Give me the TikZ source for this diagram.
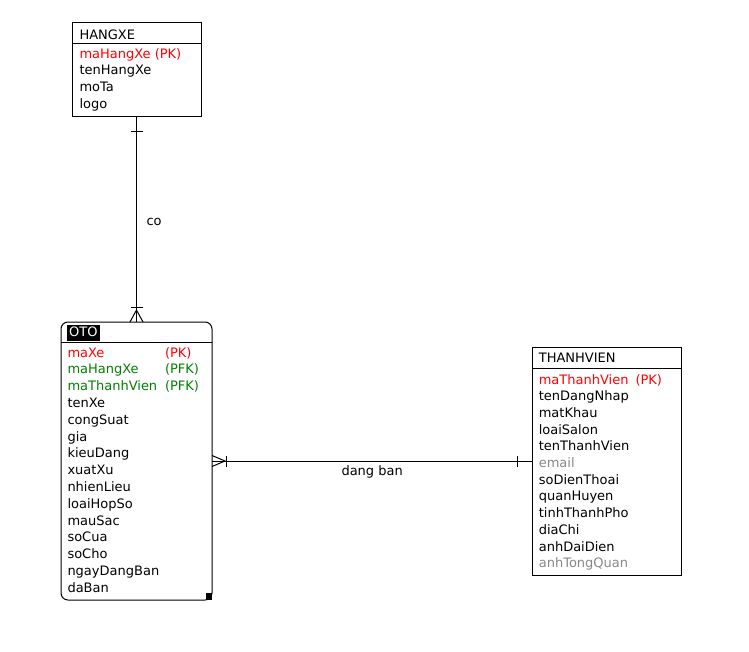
\documentclass[tikz,border=0pt]{standalone}
\usepackage{fontspec}
\setmainfont{DejaVu Sans}
\usepackage{xcolor}
\usetikzlibrary{positioning,calc}
\definecolor{pkred}{RGB}{255,0,0}
\definecolor{fkgreen}{RGB}{0,128,0}
\definecolor{optgray}{RGB}{136,136,136}

\begin{document}
\begin{tikzpicture}[x=1pt,y=-1pt,line width=1pt,
    font=\fontsize{13}{16}\selectfont,
    entity/.style={draw,rectangle,inner sep=0,outer sep=0},
    attr/.style={anchor=base west,inner sep=0},
    pk/.style={attr,text=pkred},
    fk/.style={attr,text=fkgreen}]
  \fill[white] (0,0) rectangle (749,651);
  \useasboundingbox (0,0) rectangle (749,651);

  \node[entity,minimum width=129.4pt,minimum height=93.7pt] (hangxe) at (137,69.2) {};
  \node[entity,rounded corners=7pt,minimum width=151pt,minimum height=278pt] (oto) at (136.5,461) {};
  \node[entity,minimum width=149.4pt,minimum height=228pt] (thanhvien) at (607,461.3) {};

  \node[attr] (hangxe-title) at (79,39) {HANGXE};
  \draw (hangxe.west |- 0,43.3) -- (hangxe.east |- 0,43.3);
  \node[pk] (hangxe-pk) at (79,58) {maHangXe (PK)};
  \foreach \a [count=\i] in {tenHangXe,moTa,logo}
    \node[attr] (hangxe-\i) at (79,{58+16.7*\i}) {\a};

  \node[attr,fill=black,text=white,inner xsep=2pt,inner ysep=1.5pt,text height=10pt,text depth=3pt] (oto-title) at (66.7,336.7) {OTO};
  \draw (oto.west |- 0,342) -- (oto.east |- 0,342);
  \fill (oto.south east) rectangle ++(-6.5,-7);
  \node[pk] (oto-pk) at (67,357) {maXe};
  \node[pk] at (164.5,357) {(PK)};
  \node[fk] (oto-fk1) at (67,373.8) {maHangXe};
  \node[fk] at (164.5,373.8) {(PFK)};
  \node[fk] (oto-fk2) at (67,390.6) {maThanhVien};
  \node[fk] at (164.5,390.6) {(PFK)};
  \foreach \a [count=\i from 3] in {tenXe,congSuat,gia,kieuDang,xuatXu,nhienLieu,loaiHopSo,mauSac,soCua,soCho,ngayDangBan,daBan}
    \node[attr] (oto-\i) at (67,{357+16.8*\i}) {\a};

  \node[attr] (thanhvien-title) at (538.3,362.7) {THANHVIEN};
  \draw (thanhvien.west |- 0,368.3) -- (thanhvien.east |- 0,368.3);
  \node[pk] (thanhvien-pk) at (538.3,384) {maThanhVien};
  \node[pk] at (635,384) {(PK)};
  \foreach \a/\c [count=\i] in {tenDangNhap/black,matKhau/black,loaiSalon/black,tenThanhVien/black,email/optgray,soDienThoai/black,quanHuyen/black,tinhThanhPho/black,diaChi/black,anhDaiDien/black,anhTongQuan/optgray}
    \node[attr,text=\c] (thanhvien-\i) at (538.3,{384+16.7*\i}) {\a};

  \draw (oto.north) -- (oto.north |- hangxe.south) node[midway,attr,xshift=9.5pt,yshift=-6pt] (co) {co};
  \draw (oto.north |- hangxe.south) ++(-6,15) -- ++(12,0);
  \draw (oto.north) ++(-6,-15) -- ++(12,0);
  \draw (oto.north) ++(-6.5,0) -- ++(6.5,-12) -- ++(6.5,12);

  \draw (oto.east) -- (thanhvien.west |- oto.east) node[midway,below=4pt,inner sep=0] (dangban) {dang ban};
  \draw (oto.east) ++(0,-5.5) -- ++(13,5.5) -- ++(-13,5.5);
  \draw (oto.east) ++(14,-5.5) -- ++(0,11);
  \draw (thanhvien.west |- oto.east) ++(-15,-5.5) -- ++(0,11);
\end{tikzpicture}
\end{document}
